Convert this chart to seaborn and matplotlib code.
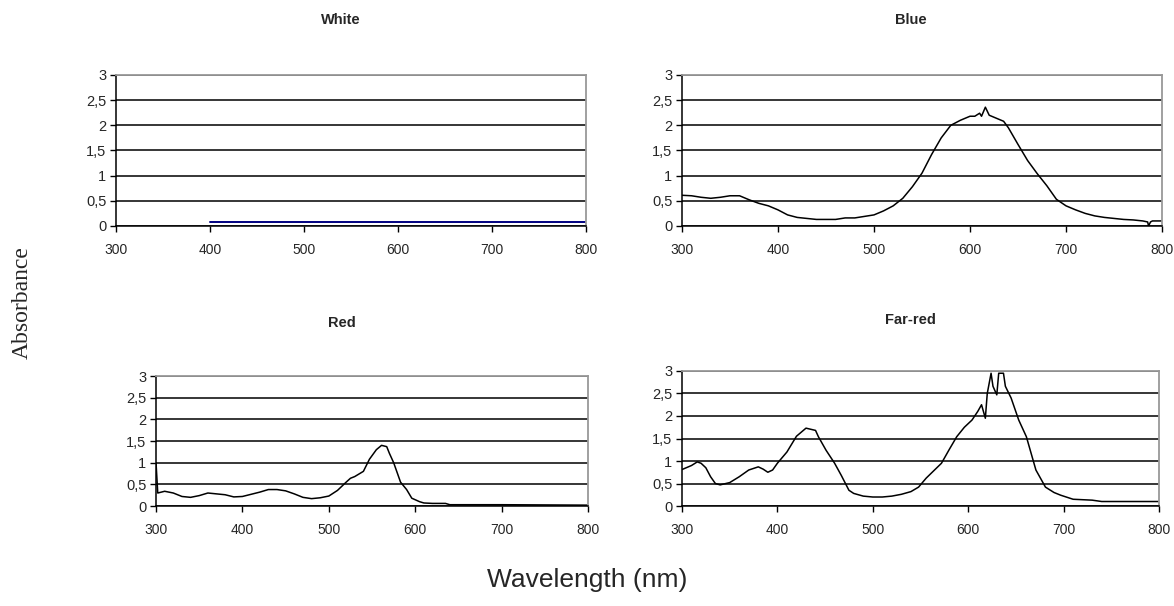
import matplotlib
matplotlib.use("Agg")
import matplotlib.pyplot as plt
import seaborn as sns

# absorbance spectra
white_nm = [400, 800]
white_abs = [0.07, 0.07]

blue_nm = [300, 310, 320, 330, 340, 350, 360, 370, 380, 390, 400, 410, 420, 430, 440, 450, 460, 470, 480, 490,
           500, 510, 520, 530, 540, 550, 560, 570, 580, 590, 600, 605, 610, 612, 616, 620, 630, 635, 640,
           650, 660, 670, 680, 690, 700, 710, 720, 730, 740, 750, 760, 770, 780, 785, 786, 788, 790, 800]
blue_abs = [0.61, 0.60, 0.57, 0.55, 0.57, 0.60, 0.60, 0.52, 0.45, 0.40, 0.32, 0.22, 0.17, 0.15, 0.13, 0.13, 0.13, 0.16, 0.16, 0.19,
            0.22, 0.30, 0.40, 0.55, 0.78, 1.05, 1.42, 1.75, 2.00, 2.10, 2.18, 2.18, 2.24, 2.18, 2.36, 2.20, 2.12, 2.08, 1.95,
            1.62, 1.30, 1.04, 0.80, 0.53, 0.40, 0.32, 0.25, 0.20, 0.17, 0.15, 0.13, 0.12, 0.10, 0.08, 0.0, 0.08, 0.10, 0.10]

red_nm = [300, 302, 310, 320, 330, 340, 350, 360, 370, 380, 390, 400, 410, 420, 430, 440, 450, 460, 470, 480, 490, 500, 510,
          520, 525, 530, 540, 547, 555, 561, 567, 570, 575, 583, 590, 596, 605, 610, 620, 635, 640, 700, 800]
red_abs = [1.0, 0.30, 0.34, 0.30, 0.22, 0.20, 0.24, 0.30, 0.28, 0.26, 0.21, 0.22, 0.27, 0.32, 0.38, 0.38, 0.35, 0.28, 0.20, 0.17, 0.19, 0.23, 0.36,
           0.55, 0.64, 0.68, 0.80, 1.08, 1.30, 1.40, 1.37, 1.22, 1.00, 0.55, 0.38, 0.18, 0.10, 0.07, 0.06, 0.06, 0.03, 0.03, 0.02]

farred_nm = [300, 310, 316, 320, 325, 330, 335, 340, 350, 360, 370, 380, 385, 390, 395, 400,
             410, 420, 430, 440, 443, 451, 460, 467, 475, 480, 490, 500, 510, 520, 530, 540, 548, 556,
             572, 580, 588, 596, 604, 610, 614, 618, 620, 624, 626, 630, 632, 637, 639, 645,
             653, 661, 671, 681, 690, 697, 710, 720, 730, 740, 800]
farred_abs = [0.81, 0.90, 0.98, 0.95, 0.85, 0.65, 0.50, 0.47, 0.52, 0.65, 0.80, 0.87, 0.82, 0.75, 0.80, 0.95,
              1.20, 1.55, 1.73, 1.68, 1.54, 1.24, 0.95, 0.68, 0.35, 0.28, 0.22, 0.20, 0.20, 0.22, 0.26, 0.32, 0.42, 0.62,
              0.95, 1.25, 1.54, 1.75, 1.91, 2.10, 2.25, 1.95, 2.50, 2.95, 2.66, 2.47, 2.95, 2.95, 2.66, 2.40,
              1.91, 1.54, 0.80, 0.42, 0.30, 0.24, 0.15, 0.14, 0.13, 0.10, 0.10]

y_ticks = [0, 0.5, 1, 1.5, 2, 2.5, 3]
y_labels = ["0", "0,5", "1", "1,5", "2", "2,5", "3"]
x_ticks = [300, 400, 500, 600, 700, 800]

sns.set_style("white")
plt.rcParams['font.family'] = ['Liberation Sans', 'DejaVu Sans']

fig = plt.figure(figsize=(11.74, 6.06), dpi=100)

panels = [
    ("White", white_nm, white_abs, "#000080", [0.0988, 0.6271, 0.4003, 0.2492], (341, 20)),
    ("Blue", blue_nm, blue_abs, "black", [0.5809, 0.6271, 0.4089, 0.2492], (911, 20)),
    ("Red", red_nm, red_abs, "black", [0.1329, 0.165, 0.368, 0.2145], (342, 323)),
    ("Far-red", farred_nm, farred_abs, "black", [0.5809, 0.165, 0.4063, 0.2228], (910, 320)),
]

for name, nm, ab, col, rect, (tx, ty) in panels:
    ax = fig.add_axes(rect)
    sns.lineplot(x=nm, y=ab, ax=ax, color=col, linewidth=1.4 if name == "White" else 1.1)
    ax.set_xlim(300, 800)
    ax.set_ylim(0, 3)
    ax.set_xticks(x_ticks)
    ax.set_xticklabels([str(t) for t in x_ticks], fontsize=10)
    ax.set_yticks(y_ticks)
    ax.set_yticklabels(y_labels, fontsize=10.5)
    ax.set_axisbelow(True)
    ax.yaxis.grid(True, color="black", linewidth=1.1)
    ax.xaxis.grid(False)
    for s in ["left", "bottom"]:
        ax.spines[s].set_color("black")
        ax.spines[s].set_linewidth(1.1)
    for s in ["top", "right"]:
        ax.spines[s].set_color("#999999")
        ax.spines[s].set_linewidth(1.3)
    ax.tick_params(axis="both", direction="out", length=4, width=1, color="black", pad=3, bottom=True, left=True)
    ax.tick_params(axis="x", pad=8)
    fig.text(tx / 1174, 1 - ty / 606, name, ha="center", va="center", fontsize=10.5, fontweight="bold")

fig.text(22 / 1174, 1 - 303 / 606, "Absorbance", rotation=90, ha="center", va="center",
         fontsize=17, family=["Liberation Serif", "DejaVu Serif"])
fig.text(587 / 1174, 1 - 580 / 606, "Wavelength (nm)", ha="center", va="center", fontsize=19)

fig.savefig("out.png", dpi=100)
